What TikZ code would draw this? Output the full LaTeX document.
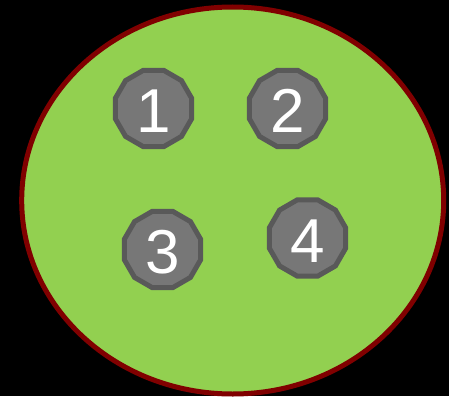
\documentclass[tikz,border=0pt]{standalone}
\usepackage{fontspec}
\setmainfont{Liberation Sans}
\usetikzlibrary{shapes.geometric}
\definecolor{leafgreen}{HTML}{92D050}
\definecolor{rimred}{HTML}{800000}
\definecolor{knobgray}{HTML}{777777}
\definecolor{knobedge}{HTML}{595959}
\tikzset{
  knob/.style={regular polygon,regular polygon sides=12,minimum size=79pt,inner sep=0pt,
    fill=knobgray,draw=knobedge,line width=5pt,text=white,
    text height=48.5pt,text depth=0pt,
    font=\fontsize{62}{62}\selectfont}
}
\begin{document}
\begin{tikzpicture}[x=1pt,y=-1pt]
% background
\fill[black] (0,0) rectangle (449,396);
\useasboundingbox (0,0) rectangle (449,396);
% plate
\draw[rimred,fill=leafgreen,line width=5pt] (232.7,200.5) ellipse [x radius=211,y radius=193.5];
% knobs
\node[knob] (k1) at (153.5,108.5) {1};
\node[knob] (k2) at (287.5,108.5) {2};
\node[knob] (k3) at (162.5,249.5) {3};
\node[knob] (k4) at (307.5,238) {4};
\end{tikzpicture}
\end{document}
